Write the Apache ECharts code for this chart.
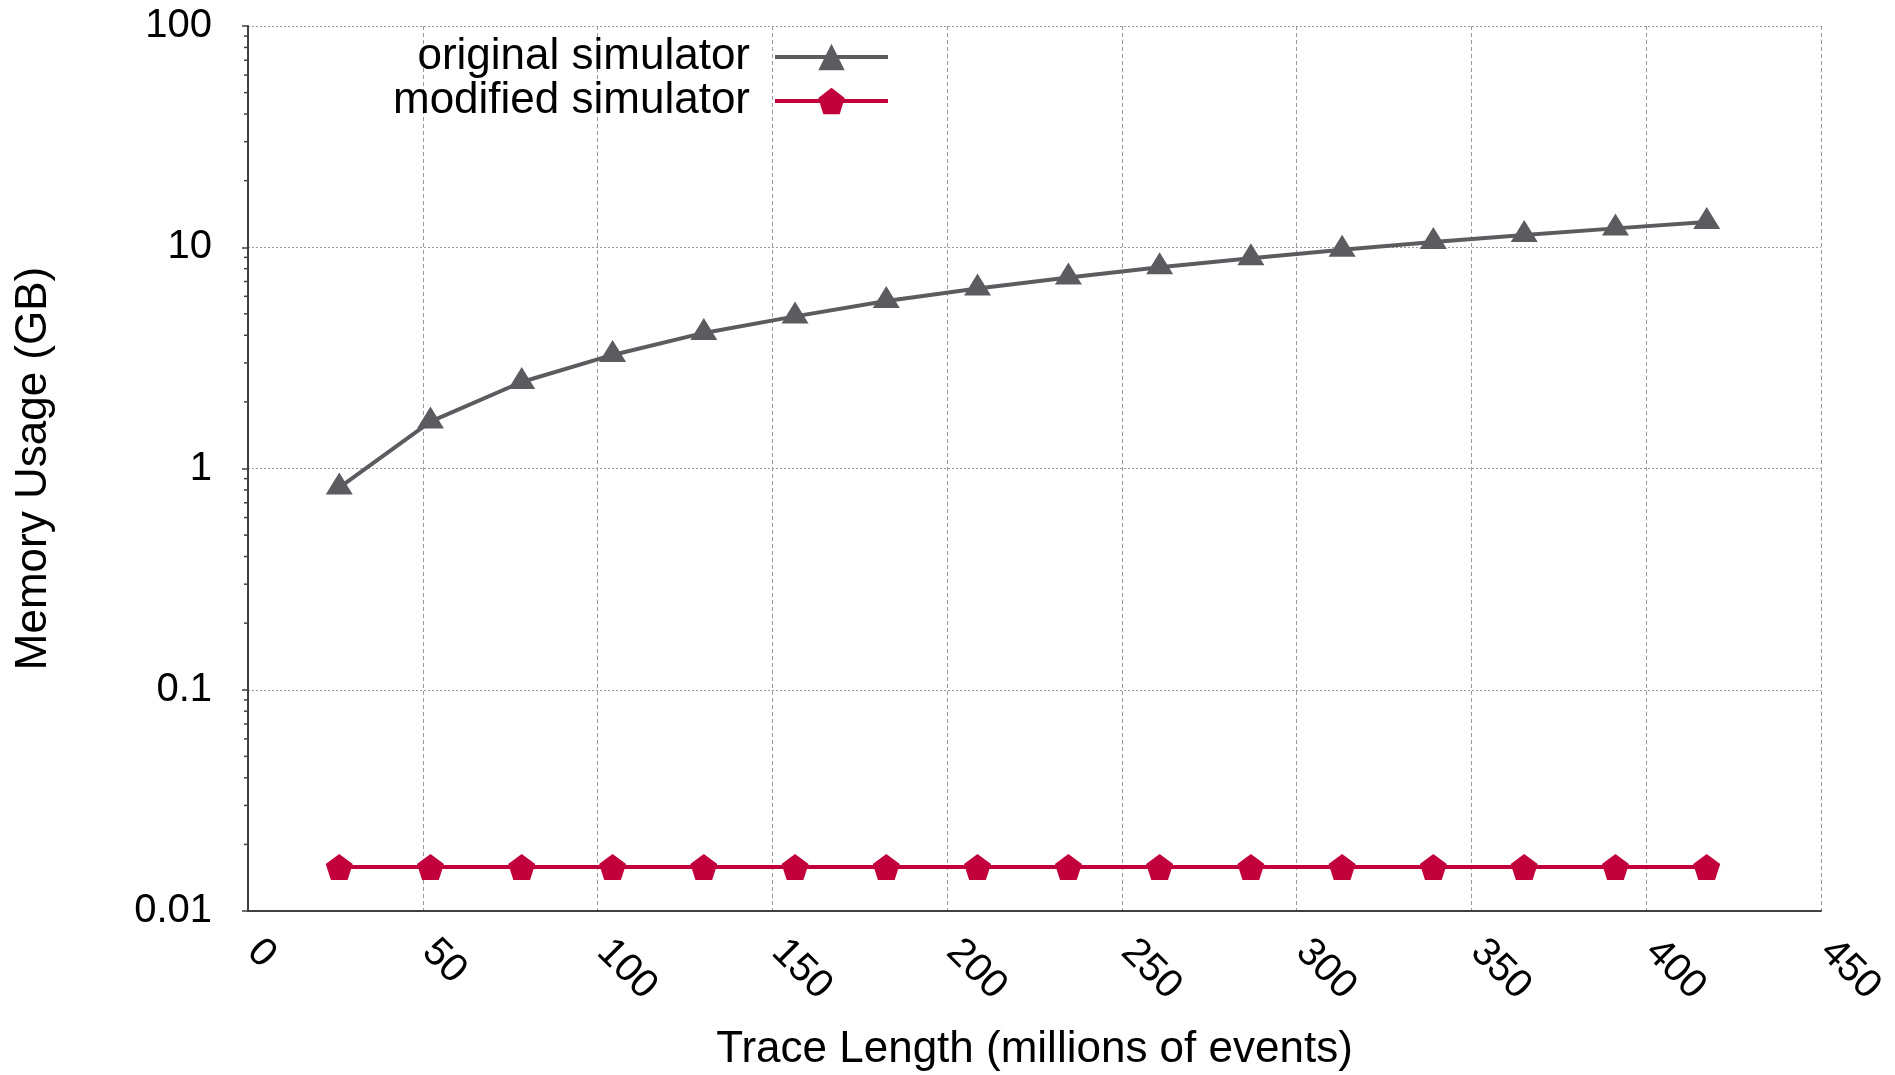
<!DOCTYPE html>
<html>
<head>
<meta charset="utf-8">
<title>Memory Usage vs Trace Length</title>
<script src="https://cdn.jsdelivr.net/npm/echarts@6/dist/echarts.min.js"></script>
<style>
  html, body { margin: 0; padding: 0; background: #ffffff; }
  #chart { width: 1895px; height: 1075px; }
</style>
</head>
<body>
<div id="chart"></div>
<script>
// Trace length in millions of events
const traceLength = [26.1, 52.2, 78.3, 104.3, 130.4, 156.5, 182.6, 208.7,
                     234.7, 260.8, 286.9, 313.0, 339.1, 365.1, 391.2, 417.3];

// Memory usage in GB
const originalSimulator = [0.82, 1.63, 2.46, 3.26, 4.10, 4.87, 5.72, 6.51,
                           7.30, 8.12, 8.92, 9.75, 10.55, 11.37, 12.17, 12.99];
const modifiedSimulator = [0.0158, 0.0158, 0.0158, 0.0158, 0.0158, 0.0158, 0.0158, 0.0158,
                           0.0158, 0.0158, 0.0158, 0.0158, 0.0158, 0.0158, 0.0158, 0.0158];

const seriesNames = ['original simulator', 'modified simulator'];

// Minor tick positions on the logarithmic memory axis
const yMinorTicks = [0.02, 0.03, 0.04, 0.05, 0.06, 0.07, 0.08, 0.09,
                     0.2, 0.3, 0.4, 0.5, 0.6, 0.7, 0.8, 0.9,
                     2, 3, 4, 5, 6, 7, 8, 9,
                     20, 30, 40, 50, 60, 70, 80, 90];

const FONT = "'Liberation Sans', Arial, Helvetica, sans-serif";
const GRAY = '#5c5c60';
const RED = '#c2003b';
const PENTAGON = 'path://M0,-1 L0.951,-0.309 L0.588,0.809 L-0.588,0.809 L-0.951,-0.309 Z';

const chart = echarts.init(document.getElementById('chart'), null, { renderer: 'canvas' });

chart.setOption({
  animation: false,
  backgroundColor: '#ffffff',
  textStyle: { fontFamily: FONT },
  grid: {
    left: 248, right: 74, top: 26, bottom: 164,
    containLabel: false,
    outerBoundsMode: 'none'
  },
  legend: {
    data: seriesNames,
    orient: 'vertical',
    align: 'right',
    right: 1005,
    top: 35,
    padding: 0,
    itemGap: 0,
    itemWidth: 113,
    itemHeight: 33,
    selectedMode: false,
    lineStyle: { width: 4 },
    textStyle: {
      fontFamily: FONT, fontSize: 44, color: '#000000',
      lineHeight: 43, padding: [0, 20, 0, 0]
    }
  },
  xAxis: {
    type: 'value',
    min: 0, max: 450, interval: 50,
    name: 'Trace Length (millions of events)',
    nameLocation: 'middle',
    nameGap: 117,
    nameTextStyle: { fontFamily: FONT, fontSize: 44, color: '#000000' },
    axisLine: { show: true, onZero: false, lineStyle: { color: '#404040', width: 2 } },
    axisTick: { show: false },
    axisLabel: {
      rotate: -45, margin: 29, fontSize: 40, fontFamily: FONT, color: '#000000',
      padding: [0, 0, 16, 8],
      showMinLabel: true, showMaxLabel: true, hideOverlap: false
    },
    splitLine: { show: true, lineStyle: { color: '#9a9a9a', width: 1, type: [4, 3] } }
  },
  yAxis: {
    type: 'log',
    logBase: 10,
    min: 0.01, max: 100,
    name: 'Memory Usage (GB)',
    nameLocation: 'middle',
    nameGap: 192,
    nameTextStyle: { fontFamily: FONT, fontSize: 44, color: '#000000' },
    axisLine: { show: true, lineStyle: { color: '#404040', width: 2 } },
    axisTick: { show: true, inside: false, length: 6, lineStyle: { color: '#404040', width: 1.5 } },
    axisLabel: {
      margin: 36, fontSize: 40, fontFamily: FONT, color: '#000000',
      showMinLabel: true, showMaxLabel: true,
      formatter: function (v) { return String(+Number(v).toPrecision(1)); }
    },
    splitLine: { show: true, lineStyle: { color: '#9a9a9a', width: 1, type: [2, 2] } }
  },
  series: [
    {
      name: seriesNames[0],
      type: 'line',
      data: traceLength.map((x, i) => [x, originalSimulator[i]]),
      symbol: 'triangle',
      symbolSize: [27, 22],
      symbolOffset: [0, -4],
      showAllSymbol: true,
      lineStyle: { color: GRAY, width: 4 },
      itemStyle: { color: GRAY },
      z: 3
    },
    {
      name: seriesNames[1],
      type: 'line',
      data: traceLength.map((x, i) => [x, modifiedSimulator[i]]),
      symbol: PENTAGON,
      symbolSize: [27, 26],
      showAllSymbol: true,
      lineStyle: { color: RED, width: 4 },
      itemStyle: { color: RED },
      z: 4
    },
    {
      // short outward minor ticks along the logarithmic axis
      type: 'custom',
      silent: true,
      clip: false,
      data: yMinorTicks.map(v => [0, v]),
      renderItem: function (params, api) {
        const p = api.coord([api.value(0), api.value(1)]);
        return {
          type: 'line',
          shape: { x1: p[0] - 4, y1: p[1], x2: p[0], y2: p[1] },
          style: { stroke: '#404040', lineWidth: 1.5 }
        };
      },
      z: 5
    }
  ]
});
</script>
</body>
</html>
